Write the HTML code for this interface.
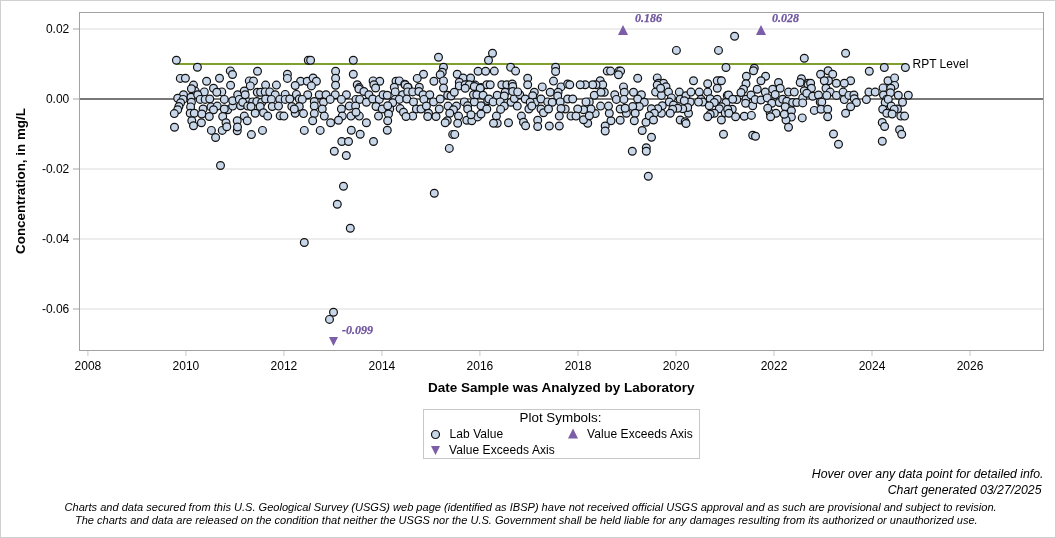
<!DOCTYPE html>
<html><head><meta charset="utf-8"><style>
html,body{margin:0;padding:0;background:#fff;}
body{width:1056px;height:538px;overflow:hidden;position:relative;}
.frame{position:absolute;left:0;top:0;width:1054px;height:536px;border:1px solid #d0d0d0;}
svg{position:absolute;left:0;top:0;will-change:transform;}
text{font-family:"Liberation Sans",sans-serif;}
.t{font-size:12px;fill:#000;}
.tb{font-size:13.4px;font-weight:bold;fill:#000;}
.ti{font-size:12.3px;font-style:italic;fill:#000;}
.tf{font-size:11.05px;font-style:italic;fill:#000;}
.ex{font-family:"Liberation Serif",serif;font-size:12px;font-weight:bold;font-style:italic;fill:#6f559f;stroke:#6f559f;stroke-width:0.25px;}
circle{fill:#c8d6e9;stroke:#111;stroke-width:1.2;}
</style></head><body><div class="frame"></div>
<svg width="1056" height="538" viewBox="0 0 1056 538">
<rect x="80" y="28.0" width="963" height="2" fill="#ededed"/>
<rect x="80" y="168.0" width="963" height="2" fill="#ededed"/>
<rect x="80" y="238.0" width="963" height="2" fill="#ededed"/>
<rect x="80" y="308.0" width="963" height="2" fill="#ededed"/>
<rect x="80" y="98.0" width="963" height="2" fill="#787878"/>
<rect x="176.4" y="63.0" width="729" height="2" fill="#7f9f2f"/>
<rect x="79.5" y="12.5" width="964" height="338" fill="none" stroke="#a2a2a2" stroke-width="1"/>
<rect x="73" y="28.0" width="6" height="2" fill="#d3d3d3"/>
<text x="69.3" y="33.3" text-anchor="end" class="t">0.02</text>
<rect x="73" y="98.0" width="6" height="2" fill="#d3d3d3"/>
<text x="69.3" y="103.3" text-anchor="end" class="t">0.00</text>
<rect x="73" y="168.0" width="6" height="2" fill="#d3d3d3"/>
<text x="69.3" y="173.3" text-anchor="end" class="t">-0.02</text>
<rect x="73" y="238.0" width="6" height="2" fill="#d3d3d3"/>
<text x="69.3" y="243.3" text-anchor="end" class="t">-0.04</text>
<rect x="73" y="308.0" width="6" height="2" fill="#d3d3d3"/>
<text x="69.3" y="313.3" text-anchor="end" class="t">-0.06</text>
<rect x="87.4" y="351" width="1" height="5" fill="#c8c8c8"/>
<text x="87.9" y="370" text-anchor="middle" class="t">2008</text>
<rect x="185.4" y="351" width="1" height="5" fill="#c8c8c8"/>
<text x="185.9" y="370" text-anchor="middle" class="t">2010</text>
<rect x="283.4" y="351" width="1" height="5" fill="#c8c8c8"/>
<text x="283.9" y="370" text-anchor="middle" class="t">2012</text>
<rect x="381.4" y="351" width="1" height="5" fill="#c8c8c8"/>
<text x="381.9" y="370" text-anchor="middle" class="t">2014</text>
<rect x="479.4" y="351" width="1" height="5" fill="#c8c8c8"/>
<text x="479.9" y="370" text-anchor="middle" class="t">2016</text>
<rect x="577.5" y="351" width="1" height="5" fill="#c8c8c8"/>
<text x="578.0" y="370" text-anchor="middle" class="t">2018</text>
<rect x="675.5" y="351" width="1" height="5" fill="#c8c8c8"/>
<text x="676.0" y="370" text-anchor="middle" class="t">2020</text>
<rect x="773.5" y="351" width="1" height="5" fill="#c8c8c8"/>
<text x="774.0" y="370" text-anchor="middle" class="t">2022</text>
<rect x="871.5" y="351" width="1" height="5" fill="#c8c8c8"/>
<text x="872.0" y="370" text-anchor="middle" class="t">2024</text>
<rect x="969.5" y="351" width="1" height="5" fill="#c8c8c8"/>
<text x="970.0" y="370" text-anchor="middle" class="t">2026</text>
<circle cx="176.4" cy="60.3" r="3.9"/>
<circle cx="197.4" cy="67.3" r="3.9"/>
<circle cx="180.3" cy="78.4" r="3.9"/>
<circle cx="185.4" cy="78.2" r="3.9"/>
<circle cx="206.6" cy="81.2" r="3.9"/>
<circle cx="219.5" cy="78.2" r="3.9"/>
<circle cx="230.3" cy="70.9" r="3.9"/>
<circle cx="232.5" cy="74.5" r="3.9"/>
<circle cx="193.5" cy="85.1" r="3.9"/>
<circle cx="230.6" cy="85.3" r="3.9"/>
<circle cx="213.5" cy="88.2" r="3.9"/>
<circle cx="195.2" cy="91.1" r="3.9"/>
<circle cx="204.3" cy="91.9" r="3.9"/>
<circle cx="221.8" cy="91.9" r="3.9"/>
<circle cx="216.8" cy="92.3" r="3.9"/>
<circle cx="183.5" cy="94.8" r="3.9"/>
<circle cx="177.7" cy="98.2" r="3.9"/>
<circle cx="183.1" cy="99.4" r="3.9"/>
<circle cx="191.0" cy="97.3" r="3.9"/>
<circle cx="197.7" cy="94.8" r="3.9"/>
<circle cx="200.2" cy="99.4" r="3.9"/>
<circle cx="205.2" cy="99.4" r="3.9"/>
<circle cx="209.75" cy="99.0" r="3.9"/>
<circle cx="224.3" cy="99.4" r="3.9"/>
<circle cx="191.4" cy="102.3" r="3.9"/>
<circle cx="180.6" cy="102.75" r="3.9"/>
<circle cx="178.9" cy="106.5" r="3.9"/>
<circle cx="177.7" cy="109.8" r="3.9"/>
<circle cx="174.3" cy="113.6" r="3.9"/>
<circle cx="190.6" cy="106.9" r="3.9"/>
<circle cx="203.1" cy="109.0" r="3.9"/>
<circle cx="211.0" cy="106.9" r="3.9"/>
<circle cx="217.25" cy="106.1" r="3.9"/>
<circle cx="213.5" cy="109.8" r="3.9"/>
<circle cx="227.7" cy="109.8" r="3.9"/>
<circle cx="224.3" cy="109.0" r="3.9"/>
<circle cx="232.7" cy="106.1" r="3.9"/>
<circle cx="232.7" cy="100.7" r="3.9"/>
<circle cx="237.7" cy="94.8" r="3.9"/>
<circle cx="239.3" cy="99.4" r="3.9"/>
<circle cx="240.6" cy="105.7" r="3.9"/>
<circle cx="190.2" cy="113.2" r="3.9"/>
<circle cx="194.3" cy="113.2" r="3.9"/>
<circle cx="201.8" cy="114.0" r="3.9"/>
<circle cx="209.3" cy="116.5" r="3.9"/>
<circle cx="222.7" cy="116.5" r="3.9"/>
<circle cx="191.8" cy="120.7" r="3.9"/>
<circle cx="201.4" cy="122.75" r="3.9"/>
<circle cx="226.0" cy="122.75" r="3.9"/>
<circle cx="237.25" cy="120.7" r="3.9"/>
<circle cx="244.3" cy="116.1" r="3.9"/>
<circle cx="191.4" cy="88.8" r="3.9"/>
<circle cx="308.3" cy="60.3" r="3.9"/>
<circle cx="310.6" cy="60.3" r="3.9"/>
<circle cx="257.5" cy="71.3" r="3.9"/>
<circle cx="287.4" cy="74.25" r="3.9"/>
<circle cx="287.4" cy="78.4" r="3.9"/>
<circle cx="249.3" cy="80.9" r="3.9"/>
<circle cx="253.5" cy="81.1" r="3.9"/>
<circle cx="250.3" cy="85.9" r="3.9"/>
<circle cx="265.6" cy="85.1" r="3.9"/>
<circle cx="276.4" cy="85.1" r="3.9"/>
<circle cx="300.6" cy="81.3" r="3.9"/>
<circle cx="295.2" cy="85.5" r="3.9"/>
<circle cx="307.25" cy="81.3" r="3.9"/>
<circle cx="313.1" cy="78.0" r="3.9"/>
<circle cx="316.4" cy="81.3" r="3.9"/>
<circle cx="311.4" cy="85.9" r="3.9"/>
<circle cx="257.25" cy="92.3" r="3.9"/>
<circle cx="260.6" cy="92.3" r="3.9"/>
<circle cx="265.2" cy="91.9" r="3.9"/>
<circle cx="269.75" cy="91.9" r="3.9"/>
<circle cx="244.3" cy="91.0" r="3.9"/>
<circle cx="245.2" cy="94.8" r="3.9"/>
<circle cx="275.2" cy="94.8" r="3.9"/>
<circle cx="285.2" cy="94.4" r="3.9"/>
<circle cx="296.4" cy="94.4" r="3.9"/>
<circle cx="307.7" cy="94.8" r="3.9"/>
<circle cx="319.3" cy="94.8" r="3.9"/>
<circle cx="248.5" cy="101.9" r="3.9"/>
<circle cx="252.7" cy="101.9" r="3.9"/>
<circle cx="256.8" cy="101.5" r="3.9"/>
<circle cx="261.8" cy="102.3" r="3.9"/>
<circle cx="265.6" cy="99.0" r="3.9"/>
<circle cx="271.4" cy="99.4" r="3.9"/>
<circle cx="279.75" cy="99.4" r="3.9"/>
<circle cx="285.2" cy="99.4" r="3.9"/>
<circle cx="289.75" cy="99.0" r="3.9"/>
<circle cx="299.3" cy="99.0" r="3.9"/>
<circle cx="302.25" cy="99.4" r="3.9"/>
<circle cx="314.3" cy="101.5" r="3.9"/>
<circle cx="323.5" cy="102.3" r="3.9"/>
<circle cx="242.7" cy="102.3" r="3.9"/>
<circle cx="247.7" cy="106.1" r="3.9"/>
<circle cx="260.2" cy="106.5" r="3.9"/>
<circle cx="272.25" cy="106.5" r="3.9"/>
<circle cx="278.5" cy="106.1" r="3.9"/>
<circle cx="291.8" cy="106.5" r="3.9"/>
<circle cx="299.3" cy="106.5" r="3.9"/>
<circle cx="314.3" cy="106.1" r="3.9"/>
<circle cx="322.25" cy="109.0" r="3.9"/>
<circle cx="251.0" cy="106.5" r="3.9"/>
<circle cx="255.2" cy="113.2" r="3.9"/>
<circle cx="263.5" cy="112.75" r="3.9"/>
<circle cx="267.7" cy="116.1" r="3.9"/>
<circle cx="280.2" cy="115.7" r="3.9"/>
<circle cx="283.9" cy="116.1" r="3.9"/>
<circle cx="295.2" cy="113.2" r="3.9"/>
<circle cx="294.3" cy="109.0" r="3.9"/>
<circle cx="303.5" cy="113.6" r="3.9"/>
<circle cx="314.3" cy="113.6" r="3.9"/>
<circle cx="324.3" cy="116.1" r="3.9"/>
<circle cx="247.25" cy="120.7" r="3.9"/>
<circle cx="312.7" cy="120.7" r="3.9"/>
<circle cx="353.3" cy="60.3" r="3.9"/>
<circle cx="335.6" cy="71.2" r="3.9"/>
<circle cx="335.6" cy="78.2" r="3.9"/>
<circle cx="335.6" cy="85.3" r="3.9"/>
<circle cx="353.3" cy="74.25" r="3.9"/>
<circle cx="357.25" cy="84.7" r="3.9"/>
<circle cx="359.3" cy="87.6" r="3.9"/>
<circle cx="373.1" cy="80.9" r="3.9"/>
<circle cx="379.75" cy="81.3" r="3.9"/>
<circle cx="373.9" cy="84.7" r="3.9"/>
<circle cx="375.6" cy="88.0" r="3.9"/>
<circle cx="396.0" cy="81.3" r="3.9"/>
<circle cx="399.3" cy="80.9" r="3.9"/>
<circle cx="394.3" cy="87.2" r="3.9"/>
<circle cx="326.0" cy="94.8" r="3.9"/>
<circle cx="335.2" cy="94.8" r="3.9"/>
<circle cx="346.4" cy="94.8" r="3.9"/>
<circle cx="330.2" cy="99.4" r="3.9"/>
<circle cx="341.4" cy="99.4" r="3.9"/>
<circle cx="358.9" cy="89.0" r="3.9"/>
<circle cx="363.9" cy="91.5" r="3.9"/>
<circle cx="368.9" cy="94.8" r="3.9"/>
<circle cx="356.0" cy="99.4" r="3.9"/>
<circle cx="359.75" cy="99.4" r="3.9"/>
<circle cx="366.4" cy="102.3" r="3.9"/>
<circle cx="372.7" cy="99.0" r="3.9"/>
<circle cx="379.3" cy="99.4" r="3.9"/>
<circle cx="383.1" cy="94.8" r="3.9"/>
<circle cx="387.25" cy="95.25" r="3.9"/>
<circle cx="395.2" cy="91.9" r="3.9"/>
<circle cx="402.7" cy="94.8" r="3.9"/>
<circle cx="395.2" cy="99.4" r="3.9"/>
<circle cx="399.3" cy="99.4" r="3.9"/>
<circle cx="392.7" cy="102.75" r="3.9"/>
<circle cx="349.3" cy="106.1" r="3.9"/>
<circle cx="355.6" cy="106.1" r="3.9"/>
<circle cx="341.4" cy="109.0" r="3.9"/>
<circle cx="376.0" cy="106.5" r="3.9"/>
<circle cx="382.25" cy="109.0" r="3.9"/>
<circle cx="389.75" cy="109.0" r="3.9"/>
<circle cx="387.7" cy="105.7" r="3.9"/>
<circle cx="400.2" cy="108.6" r="3.9"/>
<circle cx="403.5" cy="112.3" r="3.9"/>
<circle cx="342.25" cy="116.1" r="3.9"/>
<circle cx="351.0" cy="116.1" r="3.9"/>
<circle cx="359.3" cy="116.1" r="3.9"/>
<circle cx="356.0" cy="112.3" r="3.9"/>
<circle cx="378.5" cy="116.1" r="3.9"/>
<circle cx="388.5" cy="114.0" r="3.9"/>
<circle cx="387.7" cy="120.7" r="3.9"/>
<circle cx="338.5" cy="120.25" r="3.9"/>
<circle cx="330.6" cy="122.75" r="3.9"/>
<circle cx="366.4" cy="122.75" r="3.9"/>
<circle cx="438.5" cy="57.2" r="3.9"/>
<circle cx="443.5" cy="67.2" r="3.9"/>
<circle cx="442.25" cy="72.2" r="3.9"/>
<circle cx="440.2" cy="74.7" r="3.9"/>
<circle cx="423.5" cy="74.25" r="3.9"/>
<circle cx="417.25" cy="78.4" r="3.9"/>
<circle cx="433.9" cy="81.3" r="3.9"/>
<circle cx="443.5" cy="80.9" r="3.9"/>
<circle cx="443.5" cy="88.0" r="3.9"/>
<circle cx="457.25" cy="74.25" r="3.9"/>
<circle cx="463.1" cy="78.0" r="3.9"/>
<circle cx="470.6" cy="78.0" r="3.9"/>
<circle cx="478.1" cy="71.3" r="3.9"/>
<circle cx="485.6" cy="71.3" r="3.9"/>
<circle cx="404.75" cy="84.25" r="3.9"/>
<circle cx="408.1" cy="87.2" r="3.9"/>
<circle cx="419.3" cy="87.2" r="3.9"/>
<circle cx="459.3" cy="82.2" r="3.9"/>
<circle cx="459.3" cy="85.9" r="3.9"/>
<circle cx="465.2" cy="84.7" r="3.9"/>
<circle cx="469.3" cy="84.7" r="3.9"/>
<circle cx="475.2" cy="85.1" r="3.9"/>
<circle cx="481.0" cy="87.6" r="3.9"/>
<circle cx="486.8" cy="84.7" r="3.9"/>
<circle cx="405.2" cy="84.7" r="3.9"/>
<circle cx="407.7" cy="87.2" r="3.9"/>
<circle cx="465.2" cy="88.2" r="3.9"/>
<circle cx="474.3" cy="86.5" r="3.9"/>
<circle cx="480.2" cy="88.2" r="3.9"/>
<circle cx="407.7" cy="91.9" r="3.9"/>
<circle cx="412.7" cy="91.9" r="3.9"/>
<circle cx="406.8" cy="99.0" r="3.9"/>
<circle cx="413.5" cy="101.9" r="3.9"/>
<circle cx="418.9" cy="91.5" r="3.9"/>
<circle cx="423.1" cy="94.8" r="3.9"/>
<circle cx="429.75" cy="94.8" r="3.9"/>
<circle cx="423.9" cy="99.4" r="3.9"/>
<circle cx="433.5" cy="101.9" r="3.9"/>
<circle cx="440.2" cy="99.0" r="3.9"/>
<circle cx="447.7" cy="95.25" r="3.9"/>
<circle cx="451.0" cy="96.0" r="3.9"/>
<circle cx="454.3" cy="92.3" r="3.9"/>
<circle cx="464.3" cy="101.9" r="3.9"/>
<circle cx="467.7" cy="105.7" r="3.9"/>
<circle cx="474.3" cy="101.9" r="3.9"/>
<circle cx="473.5" cy="94.8" r="3.9"/>
<circle cx="476.8" cy="94.8" r="3.9"/>
<circle cx="483.1" cy="95.25" r="3.9"/>
<circle cx="481.0" cy="105.7" r="3.9"/>
<circle cx="486.8" cy="109.0" r="3.9"/>
<circle cx="487.7" cy="100.7" r="3.9"/>
<circle cx="416.4" cy="109.0" r="3.9"/>
<circle cx="421.0" cy="109.0" r="3.9"/>
<circle cx="426.4" cy="106.1" r="3.9"/>
<circle cx="439.3" cy="109.0" r="3.9"/>
<circle cx="448.1" cy="106.1" r="3.9"/>
<circle cx="456.4" cy="106.1" r="3.9"/>
<circle cx="453.5" cy="109.8" r="3.9"/>
<circle cx="449.75" cy="113.2" r="3.9"/>
<circle cx="458.5" cy="116.1" r="3.9"/>
<circle cx="428.5" cy="113.2" r="3.9"/>
<circle cx="427.7" cy="116.5" r="3.9"/>
<circle cx="436.0" cy="116.5" r="3.9"/>
<circle cx="412.7" cy="116.1" r="3.9"/>
<circle cx="447.25" cy="120.7" r="3.9"/>
<circle cx="445.2" cy="122.75" r="3.9"/>
<circle cx="457.7" cy="123.2" r="3.9"/>
<circle cx="466.8" cy="120.25" r="3.9"/>
<circle cx="471.8" cy="120.7" r="3.9"/>
<circle cx="477.7" cy="116.9" r="3.9"/>
<circle cx="481.0" cy="114.0" r="3.9"/>
<circle cx="467.7" cy="109.0" r="3.9"/>
<circle cx="471.0" cy="114.8" r="3.9"/>
<circle cx="492.5" cy="53.2" r="3.9"/>
<circle cx="488.5" cy="60.25" r="3.9"/>
<circle cx="494.3" cy="71.1" r="3.9"/>
<circle cx="510.6" cy="67.3" r="3.9"/>
<circle cx="515.6" cy="71.1" r="3.9"/>
<circle cx="527.7" cy="78.2" r="3.9"/>
<circle cx="527.7" cy="84.8" r="3.9"/>
<circle cx="555.6" cy="67.3" r="3.9"/>
<circle cx="555.6" cy="71.5" r="3.9"/>
<circle cx="553.5" cy="81.1" r="3.9"/>
<circle cx="542.25" cy="86.9" r="3.9"/>
<circle cx="561.0" cy="86.9" r="3.9"/>
<circle cx="567.7" cy="84.0" r="3.9"/>
<circle cx="490.2" cy="84.8" r="3.9"/>
<circle cx="501.8" cy="84.8" r="3.9"/>
<circle cx="506.8" cy="84.8" r="3.9"/>
<circle cx="512.25" cy="84.0" r="3.9"/>
<circle cx="512.7" cy="86.5" r="3.9"/>
<circle cx="488.9" cy="99.0" r="3.9"/>
<circle cx="493.1" cy="101.9" r="3.9"/>
<circle cx="497.25" cy="95.25" r="3.9"/>
<circle cx="505.2" cy="92.3" r="3.9"/>
<circle cx="504.3" cy="96.0" r="3.9"/>
<circle cx="500.2" cy="101.9" r="3.9"/>
<circle cx="504.3" cy="106.1" r="3.9"/>
<circle cx="500.6" cy="109.4" r="3.9"/>
<circle cx="511.0" cy="102.3" r="3.9"/>
<circle cx="514.3" cy="98.6" r="3.9"/>
<circle cx="512.7" cy="91.5" r="3.9"/>
<circle cx="519.75" cy="94.8" r="3.9"/>
<circle cx="517.7" cy="91.9" r="3.9"/>
<circle cx="517.25" cy="106.1" r="3.9"/>
<circle cx="525.2" cy="99.0" r="3.9"/>
<circle cx="534.3" cy="92.3" r="3.9"/>
<circle cx="532.7" cy="95.7" r="3.9"/>
<circle cx="535.2" cy="102.3" r="3.9"/>
<circle cx="530.2" cy="102.3" r="3.9"/>
<circle cx="541.0" cy="99.0" r="3.9"/>
<circle cx="528.9" cy="109.0" r="3.9"/>
<circle cx="531.8" cy="106.1" r="3.9"/>
<circle cx="541.0" cy="109.0" r="3.9"/>
<circle cx="543.5" cy="112.75" r="3.9"/>
<circle cx="547.7" cy="101.9" r="3.9"/>
<circle cx="552.25" cy="102.3" r="3.9"/>
<circle cx="548.5" cy="109.0" r="3.9"/>
<circle cx="550.2" cy="92.3" r="3.9"/>
<circle cx="558.1" cy="92.3" r="3.9"/>
<circle cx="557.7" cy="96.0" r="3.9"/>
<circle cx="560.2" cy="101.9" r="3.9"/>
<circle cx="567.7" cy="99.0" r="3.9"/>
<circle cx="565.2" cy="109.0" r="3.9"/>
<circle cx="561.0" cy="108.6" r="3.9"/>
<circle cx="559.3" cy="116.1" r="3.9"/>
<circle cx="496.4" cy="116.1" r="3.9"/>
<circle cx="497.25" cy="123.2" r="3.9"/>
<circle cx="493.5" cy="123.2" r="3.9"/>
<circle cx="508.5" cy="122.75" r="3.9"/>
<circle cx="521.4" cy="116.1" r="3.9"/>
<circle cx="523.5" cy="122.3" r="3.9"/>
<circle cx="525.6" cy="125.7" r="3.9"/>
<circle cx="537.7" cy="120.25" r="3.9"/>
<circle cx="537.7" cy="126.5" r="3.9"/>
<circle cx="549.3" cy="126.0" r="3.9"/>
<circle cx="559.3" cy="126.0" r="3.9"/>
<circle cx="607.25" cy="71.1" r="3.9"/>
<circle cx="610.6" cy="71.1" r="3.9"/>
<circle cx="618.9" cy="71.1" r="3.9"/>
<circle cx="620.6" cy="71.1" r="3.9"/>
<circle cx="618.5" cy="74.8" r="3.9"/>
<circle cx="637.7" cy="78.2" r="3.9"/>
<circle cx="600.2" cy="80.7" r="3.9"/>
<circle cx="602.7" cy="84.8" r="3.9"/>
<circle cx="596.0" cy="84.8" r="3.9"/>
<circle cx="592.7" cy="84.8" r="3.9"/>
<circle cx="585.2" cy="84.8" r="3.9"/>
<circle cx="580.2" cy="84.8" r="3.9"/>
<circle cx="569.75" cy="84.8" r="3.9"/>
<circle cx="623.5" cy="86.9" r="3.9"/>
<circle cx="594.3" cy="95.25" r="3.9"/>
<circle cx="604.3" cy="92.3" r="3.9"/>
<circle cx="601.0" cy="92.3" r="3.9"/>
<circle cx="614.75" cy="94.8" r="3.9"/>
<circle cx="616.4" cy="99.4" r="3.9"/>
<circle cx="624.3" cy="92.3" r="3.9"/>
<circle cx="623.9" cy="99.4" r="3.9"/>
<circle cx="633.5" cy="92.3" r="3.9"/>
<circle cx="641.4" cy="94.8" r="3.9"/>
<circle cx="637.7" cy="99.0" r="3.9"/>
<circle cx="644.3" cy="102.3" r="3.9"/>
<circle cx="639.3" cy="106.5" r="3.9"/>
<circle cx="632.7" cy="106.5" r="3.9"/>
<circle cx="635.2" cy="113.2" r="3.9"/>
<circle cx="634.3" cy="120.7" r="3.9"/>
<circle cx="626.4" cy="113.2" r="3.9"/>
<circle cx="620.2" cy="109.0" r="3.9"/>
<circle cx="625.2" cy="108.2" r="3.9"/>
<circle cx="620.2" cy="120.25" r="3.9"/>
<circle cx="611.0" cy="120.7" r="3.9"/>
<circle cx="609.3" cy="113.2" r="3.9"/>
<circle cx="608.5" cy="106.1" r="3.9"/>
<circle cx="600.6" cy="106.1" r="3.9"/>
<circle cx="595.2" cy="113.6" r="3.9"/>
<circle cx="589.3" cy="101.9" r="3.9"/>
<circle cx="586.0" cy="101.9" r="3.9"/>
<circle cx="591.0" cy="109.0" r="3.9"/>
<circle cx="583.5" cy="109.8" r="3.9"/>
<circle cx="577.7" cy="109.0" r="3.9"/>
<circle cx="571.0" cy="116.1" r="3.9"/>
<circle cx="576.0" cy="116.1" r="3.9"/>
<circle cx="587.7" cy="123.2" r="3.9"/>
<circle cx="583.5" cy="119.8" r="3.9"/>
<circle cx="589.3" cy="115.7" r="3.9"/>
<circle cx="572.7" cy="99.0" r="3.9"/>
<circle cx="605.2" cy="126.0" r="3.9"/>
<circle cx="646.0" cy="122.3" r="3.9"/>
<circle cx="642.2" cy="130.5" r="3.9"/>
<circle cx="676.4" cy="50.4" r="3.9"/>
<circle cx="718.5" cy="50.4" r="3.9"/>
<circle cx="726.0" cy="67.5" r="3.9"/>
<circle cx="657.25" cy="77.9" r="3.9"/>
<circle cx="693.5" cy="80.8" r="3.9"/>
<circle cx="720.2" cy="80.8" r="3.9"/>
<circle cx="717.25" cy="80.8" r="3.9"/>
<circle cx="658.5" cy="83.3" r="3.9"/>
<circle cx="663.5" cy="83.3" r="3.9"/>
<circle cx="707.7" cy="83.75" r="3.9"/>
<circle cx="657.25" cy="85.0" r="3.9"/>
<circle cx="666.0" cy="86.7" r="3.9"/>
<circle cx="655.6" cy="92.1" r="3.9"/>
<circle cx="661.4" cy="95.4" r="3.9"/>
<circle cx="660.6" cy="88.3" r="3.9"/>
<circle cx="668.5" cy="92.1" r="3.9"/>
<circle cx="679.3" cy="92.1" r="3.9"/>
<circle cx="671.4" cy="97.9" r="3.9"/>
<circle cx="669.3" cy="102.1" r="3.9"/>
<circle cx="673.5" cy="105.0" r="3.9"/>
<circle cx="680.2" cy="99.2" r="3.9"/>
<circle cx="686.0" cy="95.8" r="3.9"/>
<circle cx="691.0" cy="92.1" r="3.9"/>
<circle cx="699.3" cy="92.1" r="3.9"/>
<circle cx="707.7" cy="92.1" r="3.9"/>
<circle cx="717.25" cy="88.3" r="3.9"/>
<circle cx="690.2" cy="102.1" r="3.9"/>
<circle cx="684.3" cy="100.8" r="3.9"/>
<circle cx="701.0" cy="99.2" r="3.9"/>
<circle cx="702.7" cy="102.1" r="3.9"/>
<circle cx="698.5" cy="102.1" r="3.9"/>
<circle cx="710.2" cy="98.75" r="3.9"/>
<circle cx="717.25" cy="99.2" r="3.9"/>
<circle cx="727.25" cy="95.4" r="3.9"/>
<circle cx="726.0" cy="102.5" r="3.9"/>
<circle cx="714.3" cy="102.5" r="3.9"/>
<circle cx="709.3" cy="105.8" r="3.9"/>
<circle cx="721.4" cy="106.7" r="3.9"/>
<circle cx="719.3" cy="108.75" r="3.9"/>
<circle cx="725.2" cy="112.9" r="3.9"/>
<circle cx="714.3" cy="113.3" r="3.9"/>
<circle cx="710.2" cy="114.2" r="3.9"/>
<circle cx="707.7" cy="116.7" r="3.9"/>
<circle cx="721.4" cy="120.0" r="3.9"/>
<circle cx="688.5" cy="113.3" r="3.9"/>
<circle cx="687.7" cy="107.5" r="3.9"/>
<circle cx="682.7" cy="108.75" r="3.9"/>
<circle cx="677.7" cy="108.3" r="3.9"/>
<circle cx="672.7" cy="109.2" r="3.9"/>
<circle cx="670.2" cy="113.3" r="3.9"/>
<circle cx="662.25" cy="105.8" r="3.9"/>
<circle cx="661.4" cy="113.3" r="3.9"/>
<circle cx="657.7" cy="108.75" r="3.9"/>
<circle cx="651.4" cy="108.75" r="3.9"/>
<circle cx="654.3" cy="113.3" r="3.9"/>
<circle cx="649.3" cy="115.8" r="3.9"/>
<circle cx="653.5" cy="120.0" r="3.9"/>
<circle cx="680.2" cy="120.0" r="3.9"/>
<circle cx="685.2" cy="121.7" r="3.9"/>
<circle cx="754.3" cy="68.3" r="3.9"/>
<circle cx="753.5" cy="70.8" r="3.9"/>
<circle cx="804.3" cy="58.3" r="3.9"/>
<circle cx="746.4" cy="76.25" r="3.9"/>
<circle cx="765.6" cy="76.25" r="3.9"/>
<circle cx="761.0" cy="80.8" r="3.9"/>
<circle cx="778.5" cy="82.5" r="3.9"/>
<circle cx="801.4" cy="78.75" r="3.9"/>
<circle cx="800.2" cy="82.5" r="3.9"/>
<circle cx="808.0" cy="83.3" r="3.9"/>
<circle cx="721.4" cy="80.8" r="3.9"/>
<circle cx="746.0" cy="83.75" r="3.9"/>
<circle cx="734.6" cy="36.25" r="3.9"/>
<circle cx="743.5" cy="89.2" r="3.9"/>
<circle cx="741.0" cy="92.5" r="3.9"/>
<circle cx="728.5" cy="95.0" r="3.9"/>
<circle cx="736.8" cy="99.6" r="3.9"/>
<circle cx="732.7" cy="99.2" r="3.9"/>
<circle cx="732.25" cy="109.2" r="3.9"/>
<circle cx="727.7" cy="109.2" r="3.9"/>
<circle cx="728.9" cy="113.3" r="3.9"/>
<circle cx="735.6" cy="116.7" r="3.9"/>
<circle cx="744.3" cy="116.25" r="3.9"/>
<circle cx="751.4" cy="115.4" r="3.9"/>
<circle cx="746.0" cy="99.2" r="3.9"/>
<circle cx="745.6" cy="103.3" r="3.9"/>
<circle cx="751.0" cy="95.0" r="3.9"/>
<circle cx="752.7" cy="105.8" r="3.9"/>
<circle cx="755.2" cy="99.6" r="3.9"/>
<circle cx="757.25" cy="89.2" r="3.9"/>
<circle cx="761.0" cy="100.0" r="3.9"/>
<circle cx="765.2" cy="92.1" r="3.9"/>
<circle cx="767.25" cy="97.9" r="3.9"/>
<circle cx="771.8" cy="103.3" r="3.9"/>
<circle cx="772.7" cy="89.2" r="3.9"/>
<circle cx="775.2" cy="94.6" r="3.9"/>
<circle cx="780.2" cy="88.3" r="3.9"/>
<circle cx="779.3" cy="102.5" r="3.9"/>
<circle cx="782.7" cy="99.2" r="3.9"/>
<circle cx="770.2" cy="113.3" r="3.9"/>
<circle cx="776.0" cy="113.3" r="3.9"/>
<circle cx="770.6" cy="116.7" r="3.9"/>
<circle cx="767.7" cy="108.3" r="3.9"/>
<circle cx="786.8" cy="101.25" r="3.9"/>
<circle cx="785.2" cy="106.7" r="3.9"/>
<circle cx="788.5" cy="92.1" r="3.9"/>
<circle cx="794.3" cy="92.1" r="3.9"/>
<circle cx="792.7" cy="102.5" r="3.9"/>
<circle cx="796.8" cy="102.5" r="3.9"/>
<circle cx="802.7" cy="97.9" r="3.9"/>
<circle cx="802.7" cy="102.9" r="3.9"/>
<circle cx="805.2" cy="91.25" r="3.9"/>
<circle cx="807.7" cy="92.1" r="3.9"/>
<circle cx="808.0" cy="85.0" r="3.9"/>
<circle cx="791.4" cy="110.8" r="3.9"/>
<circle cx="791.4" cy="117.1" r="3.9"/>
<circle cx="786.0" cy="120.0" r="3.9"/>
<circle cx="802.25" cy="117.9" r="3.9"/>
<circle cx="784.3" cy="114.2" r="3.9"/>
<circle cx="845.6" cy="53.3" r="3.9"/>
<circle cx="884.3" cy="67.5" r="3.9"/>
<circle cx="869.3" cy="71.25" r="3.9"/>
<circle cx="820.6" cy="74.2" r="3.9"/>
<circle cx="828.1" cy="70.8" r="3.9"/>
<circle cx="832.7" cy="74.2" r="3.9"/>
<circle cx="828.5" cy="80.8" r="3.9"/>
<circle cx="824.3" cy="80.8" r="3.9"/>
<circle cx="850.6" cy="80.8" r="3.9"/>
<circle cx="810.6" cy="83.3" r="3.9"/>
<circle cx="836.4" cy="83.3" r="3.9"/>
<circle cx="844.3" cy="83.3" r="3.9"/>
<circle cx="888.0" cy="80.8" r="3.9"/>
<circle cx="811.4" cy="88.3" r="3.9"/>
<circle cx="804.3" cy="90.8" r="3.9"/>
<circle cx="806.8" cy="93.3" r="3.9"/>
<circle cx="812.7" cy="96.25" r="3.9"/>
<circle cx="818.5" cy="95.0" r="3.9"/>
<circle cx="820.2" cy="102.1" r="3.9"/>
<circle cx="821.8" cy="102.1" r="3.9"/>
<circle cx="826.0" cy="88.3" r="3.9"/>
<circle cx="830.2" cy="92.1" r="3.9"/>
<circle cx="826.8" cy="95.4" r="3.9"/>
<circle cx="836.4" cy="95.4" r="3.9"/>
<circle cx="843.1" cy="92.1" r="3.9"/>
<circle cx="844.3" cy="99.6" r="3.9"/>
<circle cx="848.9" cy="95.4" r="3.9"/>
<circle cx="853.9" cy="95.0" r="3.9"/>
<circle cx="854.3" cy="98.75" r="3.9"/>
<circle cx="856.4" cy="102.5" r="3.9"/>
<circle cx="850.6" cy="106.7" r="3.9"/>
<circle cx="845.6" cy="113.3" r="3.9"/>
<circle cx="814.3" cy="110.4" r="3.9"/>
<circle cx="821.0" cy="109.2" r="3.9"/>
<circle cx="827.7" cy="109.2" r="3.9"/>
<circle cx="827.7" cy="116.7" r="3.9"/>
<circle cx="868.9" cy="92.1" r="3.9"/>
<circle cx="875.2" cy="92.1" r="3.9"/>
<circle cx="866.4" cy="99.6" r="3.9"/>
<circle cx="883.1" cy="87.9" r="3.9"/>
<circle cx="883.5" cy="95.0" r="3.9"/>
<circle cx="886.8" cy="99.2" r="3.9"/>
<circle cx="885.2" cy="102.5" r="3.9"/>
<circle cx="882.7" cy="109.2" r="3.9"/>
<circle cx="886.8" cy="113.3" r="3.9"/>
<circle cx="882.25" cy="122.5" r="3.9"/>
<circle cx="905.4" cy="67.5" r="3.9"/>
<circle cx="894.6" cy="77.9" r="3.9"/>
<circle cx="894.6" cy="85.4" r="3.9"/>
<circle cx="890.8" cy="88.3" r="3.9"/>
<circle cx="890.4" cy="92.75" r="3.9"/>
<circle cx="898.3" cy="95.25" r="3.9"/>
<circle cx="908.3" cy="95.25" r="3.9"/>
<circle cx="888.3" cy="99.4" r="3.9"/>
<circle cx="902.5" cy="102.3" r="3.9"/>
<circle cx="891.25" cy="106.1" r="3.9"/>
<circle cx="897.5" cy="109.0" r="3.9"/>
<circle cx="894.2" cy="109.4" r="3.9"/>
<circle cx="892.1" cy="114.0" r="3.9"/>
<circle cx="900.8" cy="116.1" r="3.9"/>
<circle cx="904.6" cy="116.1" r="3.9"/>
<circle cx="884.6" cy="126.5" r="3.9"/>
<circle cx="899.6" cy="129.75" r="3.9"/>
<circle cx="211.4" cy="130.4" r="3.9"/>
<circle cx="215.6" cy="137.5" r="3.9"/>
<circle cx="222.25" cy="130.4" r="3.9"/>
<circle cx="237.25" cy="130.8" r="3.9"/>
<circle cx="220.5" cy="165.5" r="3.9"/>
<circle cx="251.4" cy="134.6" r="3.9"/>
<circle cx="262.5" cy="130.4" r="3.9"/>
<circle cx="304.3" cy="130.4" r="3.9"/>
<circle cx="320.2" cy="130.4" r="3.9"/>
<circle cx="351.3" cy="130.2" r="3.9"/>
<circle cx="360.2" cy="134.3" r="3.9"/>
<circle cx="387.3" cy="130.2" r="3.9"/>
<circle cx="341.8" cy="141.5" r="3.9"/>
<circle cx="348.5" cy="141.5" r="3.9"/>
<circle cx="373.5" cy="141.5" r="3.9"/>
<circle cx="334.3" cy="151.3" r="3.9"/>
<circle cx="346.3" cy="155.5" r="3.9"/>
<circle cx="343.5" cy="186.3" r="3.9"/>
<circle cx="337.3" cy="204.3" r="3.9"/>
<circle cx="350.3" cy="228.3" r="3.9"/>
<circle cx="304.3" cy="242.5" r="3.9"/>
<circle cx="333.5" cy="312.3" r="3.9"/>
<circle cx="329.5" cy="319.4" r="3.9"/>
<circle cx="406.0" cy="116.5" r="3.9"/>
<circle cx="452.7" cy="134.4" r="3.9"/>
<circle cx="454.75" cy="134.4" r="3.9"/>
<circle cx="449.3" cy="148.4" r="3.9"/>
<circle cx="434.3" cy="193.3" r="3.9"/>
<circle cx="605.2" cy="131.0" r="3.9"/>
<circle cx="651.5" cy="137.3" r="3.9"/>
<circle cx="632.3" cy="151.3" r="3.9"/>
<circle cx="646.3" cy="147.7" r="3.9"/>
<circle cx="646.3" cy="151.3" r="3.9"/>
<circle cx="648.3" cy="176.3" r="3.9"/>
<circle cx="686.0" cy="123.5" r="3.9"/>
<circle cx="723.5" cy="134.2" r="3.9"/>
<circle cx="752.7" cy="135.2" r="3.9"/>
<circle cx="755.5" cy="136.3" r="3.9"/>
<circle cx="788.5" cy="127.3" r="3.9"/>
<circle cx="833.5" cy="134.0" r="3.9"/>
<circle cx="838.5" cy="144.3" r="3.9"/>
<circle cx="882.3" cy="141.3" r="3.9"/>
<circle cx="901.7" cy="134.3" r="3.9"/>
<circle cx="174.5" cy="127.3" r="3.9"/>
<circle cx="193.5" cy="125.7" r="3.9"/>
<circle cx="226.8" cy="126.8" r="3.9"/>
<circle cx="237.5" cy="127.0" r="3.9"/>
<path d="M618,35 L628,35 L623,25 Z" fill="#7b5ea7"/>
<path d="M756,35 L766,35 L761,25 Z" fill="#7b5ea7"/>
<path d="M329.0,337 L338.0,337 L333.5,346 Z" fill="#7b5ea7"/>
<text x="635" y="22" class="ex">0.186</text>
<text x="772" y="22" class="ex">0.028</text>
<text x="342" y="334" class="ex">-0.099</text>
<text x="912.5" y="68" class="t">RPT Level</text>
<text x="561.3" y="392" text-anchor="middle" class="tb" style="font-size:13.5px">Date Sample was Analyzed by Laboratory</text>
<text transform="translate(25.3,181) rotate(-90)" text-anchor="middle" class="tb">Concentration, in mg/L</text>
<rect x="423.5" y="409.5" width="276" height="49" fill="none" stroke="#c8c8c8"/>
<text x="560.5" y="422" text-anchor="middle" class="t" style="font-size:13.4px">Plot Symbols:</text>
<circle cx="435.5" cy="434.5" r="4" class="lg"/>
<text x="449.5" y="438" class="t" style="letter-spacing:0.08px">Lab Value</text>
<path d="M568,438.5 L578,438.5 L573,428.5 Z" fill="#7b5ea7"/>
<text x="587" y="438" class="t" style="letter-spacing:0.08px">Value Exceeds Axis</text>
<path d="M431.0,446 L440.0,446 L435.5,455 Z" fill="#7b5ea7"/>
<text x="449" y="454" class="t" style="letter-spacing:0.08px">Value Exceeds Axis</text>
<text x="1043.5" y="478" text-anchor="end" class="ti">Hover over any data point for detailed info.</text>
<text x="1041.5" y="494" text-anchor="end" class="ti">Chart generated 03/27/2025</text>
<text x="530.6" y="511" text-anchor="middle" class="tf">Charts and data secured from this U.S. Geological Survey (USGS) web page (identified as IBSP) have not received official USGS approval and as such are provisional and subject to revision.</text>
<text x="526.3" y="523.6" text-anchor="middle" class="tf">The charts and data are released on the condition that neither the USGS nor the U.S. Government shall be held liable for any damages resulting from its authorized or unauthorized use.</text>
</svg></body></html>
